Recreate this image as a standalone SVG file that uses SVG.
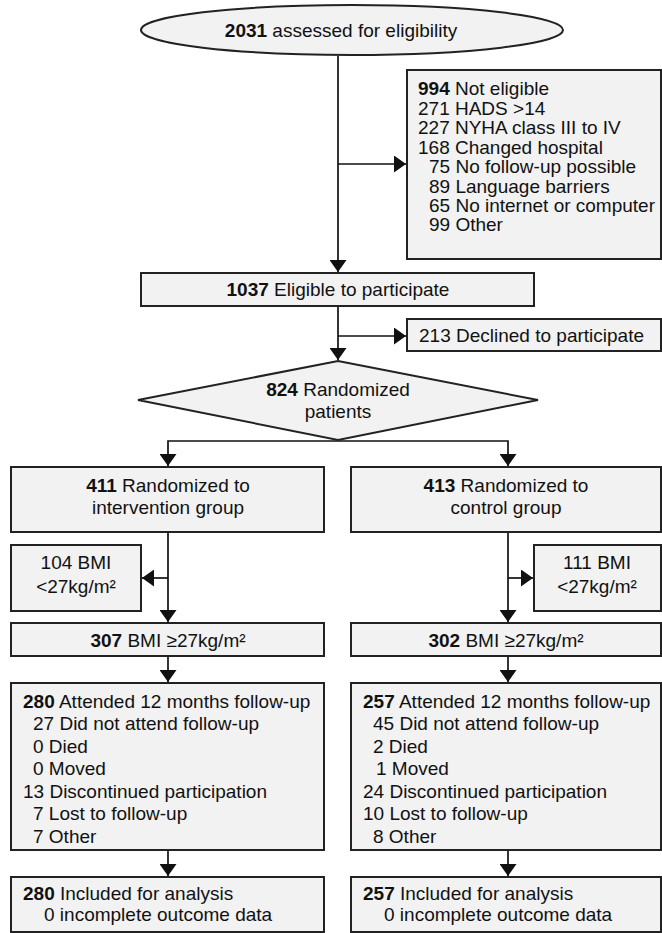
<svg xmlns="http://www.w3.org/2000/svg" width="662" height="933" viewBox="0 0 662 933">
<defs>
<style>
.box{fill:#f2f2f2;stroke:#222;stroke-width:2}
.ln{fill:none;stroke:#111;stroke-width:1.7;marker-end:url(#ah)}
text{font-family:"Liberation Sans",Arial,sans-serif;font-size:19px;fill:#111}
.c{text-anchor:middle}
.b{font-weight:bold}
</style>
<marker id="ah" markerUnits="userSpaceOnUse" markerWidth="12" markerHeight="17" refX="12" refY="8.5" orient="auto" viewBox="0 0 12 17">
<path d="M0,0 L12,8.5 L0,17 Z" fill="#111"/>
</marker>
</defs>
<rect width="662" height="933" fill="#fff"/>
<g id="connectors">
<path class="ln" d="M338,56 V272"/>
<path class="ln" d="M338,164 H406"/>
<path class="ln" d="M338,306 V360"/>
<path class="ln" d="M338,336 H406"/>
<path class="ln" d="M338,441 H168 V466"/>
<path class="ln" d="M338,441 H508 V466"/>
<path class="ln" d="M168,532 V622"/>
<path class="ln" d="M168,578 H142"/>
<path class="ln" d="M168,656 V682"/>
<path class="ln" d="M168,850 V876"/>
<path class="ln" d="M508,532 V622"/>
<path class="ln" d="M508,578 H533"/>
<path class="ln" d="M508,656 V682"/>
<path class="ln" d="M508,850 V876"/>
</g>
<g id="assessed">
<ellipse class="box" cx="352" cy="30" rx="211" ry="25"/>
<text class="c" x="341" y="37"><tspan class="b">2031</tspan> assessed for eligibility</text>
</g>
<g id="not-eligible">
<rect class="box" x="407" y="70" width="254" height="189"/>
<text x="418" y="95"><tspan class="b">994</tspan> Not eligible</text>
<text x="418" y="115">271 HADS &gt;14</text>
<text x="418" y="134">227 NYHA class III to IV</text>
<text x="418" y="154">168 Changed hospital</text>
<text x="429" y="173">75 No follow-up possible</text>
<text x="429" y="193">89 Language barriers</text>
<text x="429" y="212">65 No internet or computer</text>
<text x="429" y="231">99 Other</text>
</g>
<g id="eligible">
<rect class="box" x="141" y="273" width="393" height="33"/>
<text class="c" x="338" y="296"><tspan class="b">1037</tspan> Eligible to participate</text>
</g>
<g id="declined">
<rect class="box" x="407" y="319" width="254" height="32"/>
<text x="419" y="342">213 Declined to participate</text>
</g>
<g id="randomized">
<polygon class="box" points="338,361 538,400 338,440 138,400"/>
<text class="c" x="338" y="396"><tspan class="b">824</tspan> Randomized</text>
<text class="c" x="338" y="418">patients</text>
</g>
<g id="intervention">
<rect class="box" x="11" y="467" width="313" height="65"/>
<text class="c" x="168" y="492"><tspan class="b">411</tspan> Randomized to</text>
<text class="c" x="168" y="514">intervention group</text>
</g>
<g id="control">
<rect class="box" x="351" y="467" width="310" height="65"/>
<text class="c" x="506" y="492"><tspan class="b">413</tspan> Randomized to</text>
<text class="c" x="506" y="514">control group</text>
</g>
<g id="int-bmi-low">
<rect class="box" x="11" y="545" width="130" height="66"/>
<text class="c" x="76" y="569">104 BMI</text>
<text class="c" x="76" y="593">&lt;27kg/m²</text>
</g>
<g id="ctl-bmi-low">
<rect class="box" x="534" y="545" width="127" height="66"/>
<text class="c" x="597" y="569">111 BMI</text>
<text class="c" x="597" y="593">&lt;27kg/m²</text>
</g>
<g id="int-bmi-high">
<rect class="box" x="11" y="623" width="313" height="33"/>
<text class="c" x="168" y="647"><tspan class="b">307</tspan> BMI ≥27kg/m²</text>
</g>
<g id="ctl-bmi-high">
<rect class="box" x="351" y="623" width="310" height="33"/>
<text class="c" x="506" y="647"><tspan class="b">302</tspan> BMI ≥27kg/m²</text>
</g>
<g id="int-followup">
<rect class="box" x="11" y="683" width="313" height="167"/>
<text x="23" y="708"><tspan class="b">280</tspan> Attended 12 months follow-up</text>
<text x="33" y="730">27 Did not attend follow-up</text>
<text x="33" y="753">0 Died</text>
<text x="33" y="775">0 Moved</text>
<text x="23" y="798">13 Discontinued participation</text>
<text x="33" y="820">7 Lost to follow-up</text>
<text x="33" y="843">7 Other</text>
</g>
<g id="ctl-followup">
<rect class="box" x="351" y="683" width="310" height="167"/>
<text x="363" y="708"><tspan class="b">257</tspan> Attended 12 months follow-up</text>
<text x="373" y="730">45 Did not attend follow-up</text>
<text x="373" y="753">2 Died</text>
<text x="376" y="775">1 Moved</text>
<text x="363" y="798">24 Discontinued participation</text>
<text x="363" y="820">10 Lost to follow-up</text>
<text x="373" y="843">8 Other</text>
</g>
<g id="int-analysis">
<rect class="box" x="11" y="877" width="313" height="55"/>
<text x="23" y="900"><tspan class="b">280</tspan> Included for analysis</text>
<text x="44" y="921">0 incomplete outcome data</text>
</g>
<g id="ctl-analysis">
<rect class="box" x="351" y="877" width="310" height="55"/>
<text x="363" y="900"><tspan class="b">257</tspan> Included for analysis</text>
<text x="384" y="921">0 incomplete outcome data</text>
</g>
</svg>
